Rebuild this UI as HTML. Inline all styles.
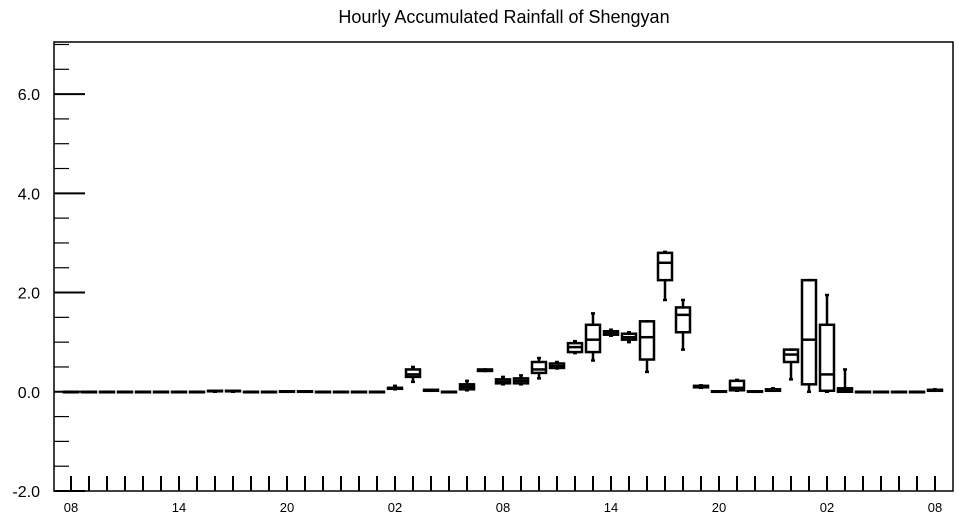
<!DOCTYPE html>
<html><head><meta charset="utf-8"><style>
body{margin:0;background:#fff;}
svg text{font-family:"Liberation Sans",Helvetica,sans-serif;}
</style></head><body>
<svg id="chart" width="959" height="520" xmlns="http://www.w3.org/2000/svg">
<text x="504" y="23" font-size="18" text-anchor="middle">Hourly Accumulated Rainfall of Shengyan</text>
<g id="axes"></g>
<g id="boxes"></g>
</svg>
<script>
const xLabels=["08","14","20","02","08","14","20","02","08"];
const yTicks=[-2,0,2,4,6];
const yTickLabels=["-2.0","0.0","2.0","4.0","6.0"];
// per hour (index 0..48): whisker low, q1, median, q3, whisker high
const wLow=[0,0,0,0,0,0,0,0,0,0,0,0,0,0,0,0,0,0,0.05,0.2,0.02,0,0.03,0.42,0.15,0.15,0.27,0.47,0.78,0.63,1.13,1.0,0.4,1.85,0.85,0.08,0,0.02,0,0.02,0.25,0,0,0,0,0,0,0,0.02];
const q1=[0,0,0,0,0,0,0,0,0.01,0.01,0,0,0,0,0,0,0,0,0.06,0.3,0.02,0,0.05,0.42,0.17,0.17,0.38,0.48,0.8,0.8,1.15,1.05,0.65,2.25,1.2,0.09,0,0.03,0,0.02,0.6,0.15,0.02,0,0,0,0,0,0.02];
const med=[0,0,0,0,0,0,0,0,0.01,0.01,0,0,0,0,0,0,0,0,0.07,0.35,0.03,0,0.1,0.43,0.2,0.22,0.45,0.52,0.9,1.05,1.18,1.1,1.1,2.6,1.55,0.1,0,0.08,0,0.03,0.75,1.05,0.35,0.03,0,0,0,0,0.03];
const q3=[0,0,0,0,0,0,0,0,0.02,0.02,0,0,0.01,0.01,0,0,0,0,0.08,0.45,0.04,0,0.15,0.45,0.25,0.27,0.6,0.57,0.98,1.35,1.22,1.17,1.42,2.8,1.7,0.12,0.01,0.22,0.01,0.05,0.85,2.25,1.35,0.07,0,0,0,0,0.04];
const wHigh=[0,0,0,0,0,0,0,0,0.02,0.02,0,0,0.01,0.01,0,0,0,0,0.12,0.5,0.04,0,0.22,0.45,0.3,0.33,0.68,0.6,1.02,1.58,1.25,1.2,1.42,2.82,1.85,0.13,0.01,0.24,0.01,0.07,0.85,2.25,1.95,0.45,0,0,0,0,0.05];
const L=54,R=953,T=42,B=491;
const yMin=-2,yMax=7.05;
const xs=i=>71+18*i;
const ys=v=>B-(v-yMin)/(yMax-yMin)*(B-T);
const NS="http://www.w3.org/2000/svg";
function mk(tag,attrs,parent){const e=document.createElementNS(NS,tag);for(const k in attrs)e.setAttribute(k,attrs[k]);parent.appendChild(e);return e;}
const ax=document.getElementById('axes');
const frame=mk('rect',{x:L,y:T,width:R-L,height:B-T,fill:'none',stroke:'#000','stroke-width':1.5},ax);


for(let v=-2;v<=7.01;v+=0.5){
  const major=Math.abs(v-Math.round(v/2)*2)<1e-6;
  const t=mk('line',{x1:L,x2:L+(major?31:15),y1:ys(v),y2:ys(v),stroke:'#000','stroke-width':major?2:1.2},ax);
  
  
}
yTicks.forEach((v,k)=>{
  const t=mk('text',{x:L-14,y:ys(v)+6,'font-size':16,'text-anchor':'end'},ax);
  t.textContent=yTickLabels[k];
  
  
});
for(let i=0;i<=48;i++){
  const t=mk('line',{x1:xs(i),x2:xs(i),y1:B,y2:B-15,stroke:'#000','stroke-width':2},ax);
  
  
}
xLabels.forEach((s,k)=>{
  const t=mk('text',{x:xs(k*6),y:512,'font-size':13,'text-anchor':'middle'},ax);
  t.textContent=s;
  
  
});
const bx=document.getElementById('boxes');
for(let i=0;i<med.length;i++){
  const g=mk('g',{stroke:'#000','stroke-width':2.5,fill:'none'},bx);
  
  
  const x=xs(i),w=7;
  mk('line',{x1:x,x2:x,y1:ys(wLow[i]),y2:ys(q1[i])},g);
  mk('line',{x1:x,x2:x,y1:ys(q3[i]),y2:ys(wHigh[i])},g);
  mk('line',{x1:x-2,x2:x+2,y1:ys(wLow[i]),y2:ys(wLow[i])},g);
  mk('line',{x1:x-2,x2:x+2,y1:ys(wHigh[i]),y2:ys(wHigh[i])},g);
  mk('rect',{x:x-w,y:ys(q3[i]),width:2*w,height:Math.max(0.5,ys(q1[i])-ys(q3[i]))},g);
  mk('line',{x1:x-w,x2:x+w,y1:ys(med[i]),y2:ys(med[i])},g);
}
</script>
</body></html>
